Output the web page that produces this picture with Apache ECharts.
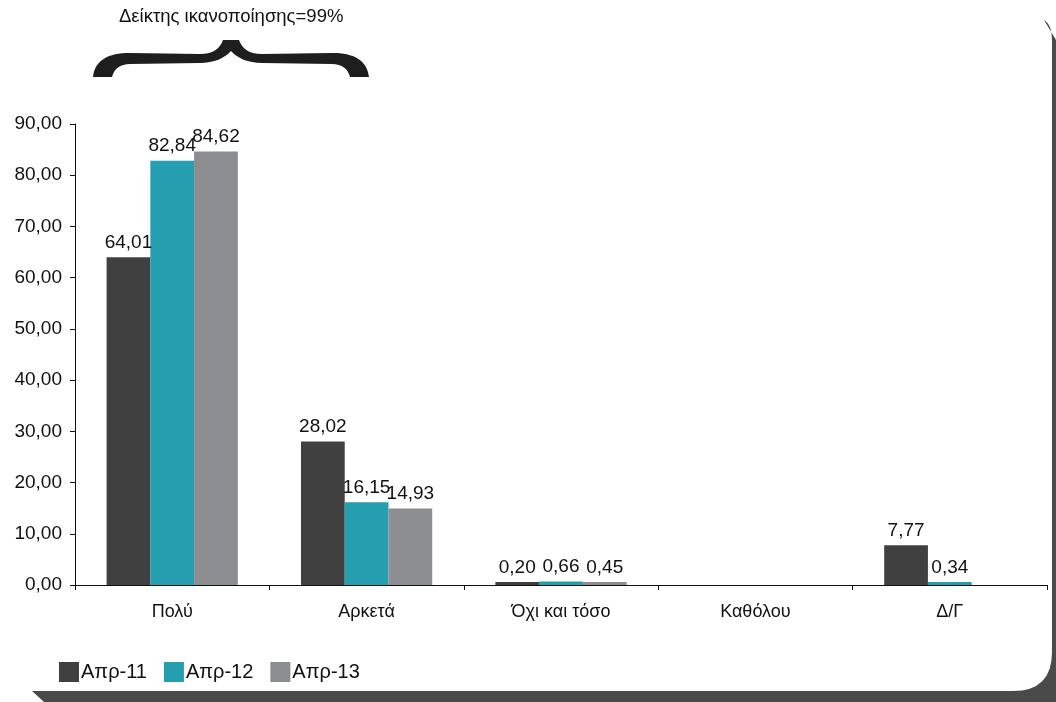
<!DOCTYPE html>
<html><head><meta charset="utf-8">
<script src="https://cdn.jsdelivr.net/npm/echarts@6/dist/echarts.min.js"></script>
<style>html,body{margin:0;padding:0;background:#fff}#c{width:1056px;height:702px}</style>
</head><body><div id="c"></div>
<script>
var categories = ['Πολύ', 'Αρκετά', 'Όχι και τόσο', 'Καθόλου', 'Δ/Γ'];
var seriesNames = ['Απρ-11', 'Απρ-12', 'Απρ-13'];
var apr11 = [64.01, 28.02, 0.20, null, 7.77];
var apr12 = [82.84, 16.15, 0.66, null, 0.34];
var apr13 = [84.62, 14.93, 0.45, null, null];
var yTicks = [0, 10, 20, 30, 40, 50, 60, 70, 80, 90];
var headline = 'Δείκτης ικανοποίησης=99%';

var FONT = 'Liberation Sans, Arial, sans-serif';
var colors = ['#404040', '#259eb0', '#8c8d91'];
function fmt(v){ return Number(v).toFixed(2).replace('.', ','); }

echarts.graphic.registerShape('braceShape', echarts.graphic.extendPath(
  'M 93 77 C 95 60 108 53 130 53 L 200 54 C 214 54 220 48 223 40 L 239 40 C 242 48 248 54 262 54 L 332 53 ' +
  'C 354 53 367 60 369 77 L 350 77 C 348 69 342 64 332 64 L 262 63 C 248 63 237 58 231 51 ' +
  'C 225 58 214 63 200 63 L 130 64 C 120 64 114 69 112 77 Z', {}));
echarts.graphic.registerShape('frameShape', echarts.graphic.extendPath(
  'M 1044 20 C 1050 24 1052 30 1052 42 L 1052 652 Q 1052 691 1013 691 L 32 691 L 44 702 L 1056 702 L 1056 40 Z', {}));

var chart = echarts.init(document.getElementById('c'));
function mk(name, data, i){
  return {
    name: name, type: 'bar', data: data, barGap: '0%', barCategoryGap: '32.5%',
    barMinHeight: 3,
    itemStyle: { color: colors[i] },
    label: { show: true, position: 'top', distance: 5, color: '#111', fontFamily: FONT, fontSize: 19,
      formatter: function(p){ return fmt(p.value); } }
  };
}
chart.setOption({
  animation: false,
  textStyle: { fontFamily: FONT },
  grid: { left: 75, right: 9, top: 124, bottom: 117 },
  legend: {
    left: 54, top: 657, itemWidth: 20, itemHeight: 20, itemGap: 17,
    icon: 'rect',
    textStyle: { fontFamily: FONT, fontSize: 20, color: '#111', padding: [0,0,0,-3] },
    data: seriesNames
  },
  xAxis: {
    type: 'category', data: categories,
    axisLine: { lineStyle: { color: '#111', width: 1 } },
    axisTick: { show: true, length: 5, lineStyle: { color: '#111' } },
    axisLabel: { fontFamily: FONT, fontSize: 18, color: '#111', margin: 18 }
  },
  yAxis: {
    type: 'value', min: yTicks[0], max: yTicks[yTicks.length-1], interval: 10,
    splitLine: { show: false },
    axisLine: { show: true, lineStyle: { color: '#111', width: 1 } },
    axisTick: { show: true, length: 5, lineStyle: { color: '#111' } },
    axisLabel: { fontFamily: FONT, fontSize: 19, color: '#111', margin: 13,
      formatter: function(v){ return fmt(v); } }
  },
  series: [mk(seriesNames[0], apr11, 0), mk(seriesNames[1], apr12, 1), mk(seriesNames[2], apr13, 2)],
  graphic: [
    { type: 'text', left: 119, top: 7, style: { text: headline, fontFamily: FONT, fontSize: 18.5, fill: '#111' } },
    { type: 'braceShape', style: { fill: '#1e1e1e', stroke: null } },
    { type: 'frameShape', style: { fill: '#4a4a4a', stroke: null } }
  ]
});
</script></body></html>
